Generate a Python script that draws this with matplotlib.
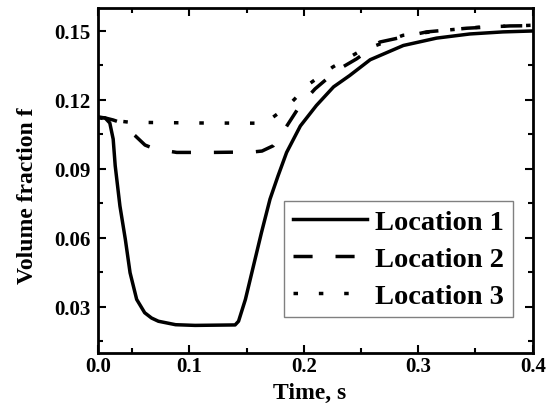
import numpy as np
from matplotlib import pyplot as plt
from matplotlib.ticker import MultipleLocator, FormatStrFormatter

# values
t_loc1 = [0.000, 0.010, 0.017, 0.022, 0.025, 0.032, 0.040, 0.047, 0.054, 0.061, 0.067,
          0.073, 0.088, 0.105, 0.140, 0.143, 0.149, 0.156, 0.163, 0.1705, 0.1775, 0.185,
          0.197, 0.211, 0.226, 0.240, 0.258, 0.287, 0.316, 0.345, 0.374, 0.400]
f_loc1 = [0.1126, 0.1122, 0.1100, 0.1030, 0.0914, 0.0739, 0.0594, 0.0449, 0.0333, 0.0275, 0.0252,
          0.0238, 0.0223, 0.0220, 0.0222, 0.0238, 0.0333, 0.0478, 0.0623, 0.0769, 0.0870, 0.0972,
          0.1087, 0.1176, 0.1257, 0.1306, 0.1375, 0.1437, 0.1469, 0.1487, 0.1496, 0.1500]

t_loc2 = [0.000, 0.010, 0.022, 0.032, 0.0425, 0.0526, 0.0613, 0.070, 0.089, 0.120, 0.1556,
          0.1635, 0.1733, 0.1835, 0.1967, 0.2098, 0.2287, 0.2462, 0.2665, 0.3073, 0.3425,
          0.380, 0.400]
f_loc2 = [0.1124, 0.1122, 0.1113, 0.1103, 0.1074, 0.1045, 0.1004, 0.0987, 0.0972, 0.0972, 0.0974,
          0.0978, 0.1001, 0.1074, 0.1176, 0.1248, 0.1328, 0.1379, 0.1452, 0.1496, 0.1512,
          0.1522, 0.1523]

t_loc3 = [0.000, 0.017, 0.047, 0.109, 0.166, 0.1856, 0.2048, 0.2252, 0.2476, 0.2866, 0.319,
          0.354, 0.395, 0.400]
f_loc3 = [0.1124, 0.1113, 0.1103, 0.1100, 0.1099, 0.1171, 0.1270, 0.1343, 0.1408, 0.1481, 0.1501,
          0.1517, 0.1524, 0.1525]

labels = ['Location 1', 'Location 2', 'Location 3']


# the reference squeezes the first 0.05 s of the time axis
def fwd(t):
    t = np.asarray(t, dtype=float)
    return np.where(t < 0.05, t * 0.59, t - 0.0205)


def inv(u):
    u = np.asarray(u, dtype=float)
    return np.where(u < 0.0295, u / 0.59, u + 0.0205)


plt.rcParams['font.family'] = ['Liberation Serif', 'DejaVu Serif']
plt.rcParams['font.weight'] = 'bold'

fig = plt.figure(figsize=(5.58, 4.10), dpi=100)
ax = fig.add_axes([0.1762, 0.1366, 0.7785, 0.8415])

lw = 2.5
ax.plot(t_loc1, f_loc1, color='k', lw=lw, label=labels[0])
ax.plot(t_loc2, f_loc2, color='k', lw=lw, dashes=(5.5, 6.6), label=labels[1])
ax.plot(t_loc3, f_loc3, color='k', lw=lw, dashes=(1.3, 6.0), label=labels[2])

ax.set_xscale('function', functions=(fwd, inv))
ax.set_xlim(0, 0.4)
ax.set_ylim(0.01, 0.16)
ax.xaxis.set_major_locator(MultipleLocator(0.1))
ax.xaxis.set_minor_locator(MultipleLocator(0.05))
ax.yaxis.set_major_locator(MultipleLocator(0.03))
ax.yaxis.set_minor_locator(MultipleLocator(0.015))
ax.xaxis.set_major_formatter(FormatStrFormatter('%.1f'))
ax.yaxis.set_major_formatter(FormatStrFormatter('%.2f'))

for s in ax.spines.values():
    s.set_linewidth(2)
ax.tick_params(which='both', direction='in', top=True, right=True, width=1.5, labelsize=15)
ax.tick_params(which='major', length=6)
ax.tick_params(which='minor', length=3.5)
ax.tick_params(axis='x', pad=2)
ax.tick_params(axis='y', pad=5.5)

ax.set_xlabel('Time, s', fontsize=17, fontweight='bold')
ax.set_ylabel('Volume fraction f', fontsize=17, fontweight='bold')
ax.xaxis.set_label_coords(0.487, -0.084)
ax.yaxis.set_label_coords(-0.139, 0.458)

leg = ax.legend(loc='upper left', bbox_to_anchor=(0.428, 0.4406), fontsize=20.5,
                frameon=True, fancybox=False, framealpha=1, borderpad=0.3,
                borderaxespad=0, handlelength=2.6, handletextpad=0.3, labelspacing=0.38)
leg.get_frame().set_edgecolor('#808080')
leg.get_frame().set_linewidth(1)

fig.savefig('out.png', dpi=100)
